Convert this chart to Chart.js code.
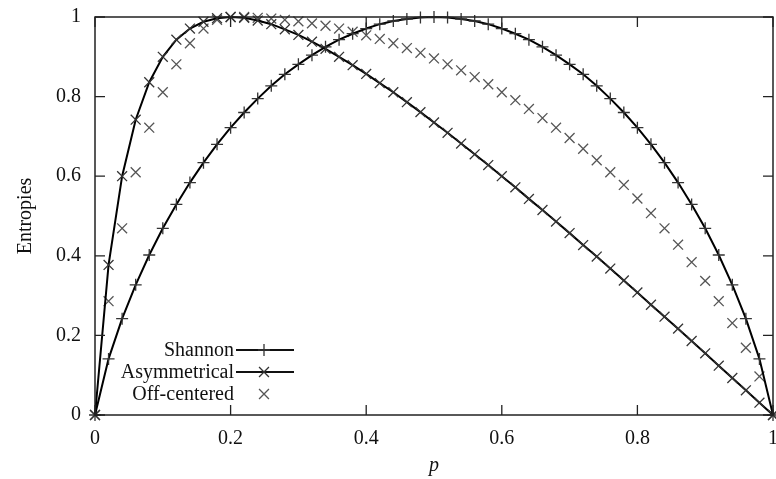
<!DOCTYPE html>
<html>
<head>
<meta charset="utf-8">
<script src="https://cdn.jsdelivr.net/npm/chart.js@4"></script>
<style>
html,body{margin:0;padding:0;background:#fff;}
#wrap{width:776px;height:479px;position:relative;}
</style>
</head>
<body>
<div id="wrap"><canvas id="c" width="776" height="479"></canvas></div>
<script>
// p values, step 0.02
const pValues = [0,0.02,0.04,0.06,0.08,0.10,0.12,0.14,0.16,0.18,0.20,0.22,0.24,0.26,0.28,0.30,0.32,0.34,0.36,0.38,0.40,0.42,0.44,0.46,0.48,0.50,0.52,0.54,0.56,0.58,0.60,0.62,0.64,0.66,0.68,0.70,0.72,0.74,0.76,0.78,0.80,0.82,0.84,0.86,0.88,0.90,0.92,0.94,0.96,0.98,1.00];
const shannon = [0,0.141,0.242,0.327,0.402,0.469,0.529,0.584,0.634,0.680,0.722,0.760,0.795,0.827,0.856,0.881,0.904,0.925,0.943,0.958,0.971,0.982,0.990,0.995,0.999,1.000,0.999,0.995,0.990,0.982,0.971,0.958,0.943,0.925,0.904,0.881,0.856,0.827,0.795,0.760,0.722,0.680,0.634,0.584,0.529,0.469,0.402,0.327,0.242,0.141,0];
const asymmetrical = [0,0.377,0.600,0.742,0.836,0.900,0.943,0.971,0.988,0.997,1.000,0.998,0.991,0.982,0.969,0.955,0.938,0.920,0.900,0.879,0.857,0.834,0.811,0.786,0.761,0.735,0.709,0.682,0.655,0.628,0.600,0.572,0.543,0.515,0.486,0.457,0.427,0.398,0.368,0.338,0.308,0.277,0.247,0.217,0.186,0.155,0.124,0.093,0.062,0.031,0];
const offCentered = [0,0.286,0.469,0.610,0.722,0.811,0.881,0.934,0.971,0.993,1.000,1.000,0.998,0.996,0.993,0.989,0.984,0.978,0.971,0.963,0.954,0.945,0.934,0.922,0.910,0.896,0.881,0.866,0.849,0.831,0.811,0.791,0.769,0.746,0.722,0.696,0.669,0.640,0.610,0.578,0.544,0.507,0.469,0.428,0.384,0.337,0.286,0.231,0.169,0.097,0];
const tickValues = [0,0.2,0.4,0.6,0.8,1];
const seriesNames = ['Shannon','Asymmetrical','Off-centered'];

const FONT = '"Liberation Serif", "Times New Roman", serif';
const toXY = arr => arr.map((v,i)=>({x:pValues[i], y:v}));

const framePlugin = {
  id:'frame',
  afterDatasetsDraw(chart){
    const {ctx, chartArea:a, scales:{x,y}} = chart;
    ctx.save();
    ctx.strokeStyle = '#222';
    ctx.lineWidth = 1.5;
    ctx.strokeRect(a.left, a.top, a.right-a.left, a.bottom-a.top);
    const tl = 10;
    ctx.lineWidth = 1.3;
    ctx.beginPath();
    tickValues.forEach(v=>{
      const px = x.getPixelForValue(v);
      ctx.moveTo(px, a.bottom); ctx.lineTo(px, a.bottom-tl);
      ctx.moveTo(px, a.top); ctx.lineTo(px, a.top+tl);
      const py = y.getPixelForValue(v);
      ctx.moveTo(a.left, py); ctx.lineTo(a.left+tl, py);
      ctx.moveTo(a.right, py); ctx.lineTo(a.right-tl, py);
    });
    ctx.stroke();

    // legend (inside bottom-left)
    const textRight = 234, lineL = 236, lineR = 294, mx = 264;
    const rows = [350, 372, 394];
    ctx.font = '20px ' + FONT;
    ctx.fillStyle = '#111';
    ctx.textAlign = 'right';
    ctx.textBaseline = 'middle';
    chart.data.datasets.forEach((ds,i)=>{
      const yy = rows[i];
      ctx.fillText(seriesNames[i], textRight, yy+1);
      if (ds.showLine !== false) {
        ctx.strokeStyle = '#111'; ctx.lineWidth = 2;
        ctx.beginPath(); ctx.moveTo(lineL, yy); ctx.lineTo(lineR, yy); ctx.stroke();
      }
      ctx.strokeStyle = ds.pointBorderColor; ctx.lineWidth = 1.3;
      Chart.helpers.drawPoint(ctx, {pointStyle: ds.pointStyle, radius: ds.pointRadius, rotation:0, borderWidth:1.3}, mx, yy);
    });
    ctx.restore();
  }
};

new Chart(document.getElementById('c'), {
  type:'scatter',
  data:{
    datasets:[
      {label:seriesNames[0], data:toXY(shannon), showLine:true, borderColor:'#000', borderWidth:2, clip:false,
       pointStyle:'cross', pointRadius:6, pointBorderColor:'#333', pointBorderWidth:1.3, pointBackgroundColor:'transparent', tension:0},
      {label:seriesNames[1], data:toXY(asymmetrical), showLine:true, borderColor:'#000', borderWidth:2, clip:false,
       pointStyle:'crossRot', pointRadius:7, pointBorderColor:'#333', pointBorderWidth:1.3, pointBackgroundColor:'transparent', tension:0},
      {label:seriesNames[2], data:toXY(offCentered), showLine:false, clip:false,
       pointStyle:'crossRot', pointRadius:7, pointBorderColor:'#555', pointBorderWidth:1.3, pointBackgroundColor:'transparent'}
    ]
  },
  options:{
    responsive:false,
    animation:false,
    layout:{autoPadding:false, padding:{left:0,right:3,top:17,bottom:0}},
    plugins:{legend:{display:false}, tooltip:{enabled:false}},
    scales:{
      x:{type:'linear', min:0, max:1,
         grid:{display:false, drawTicks:false},
         border:{display:false},
         afterBuildTicks(s){ s.ticks = tickValues.map(v=>({value:v})); },
         ticks:{padding:12, color:'#111', font:{family:FONT,size:20}, maxRotation:0,
                callback:v=> v===0||v===1 ? String(v) : v.toFixed(1)},
         title:{display:true, text:'p', color:'#111', font:{family:FONT,size:20,style:'italic'}, padding:{top:0,bottom:1}},
         afterFit(s){ s.height = 64; s.paddingLeft=0; s.paddingRight=0; }
      },
      y:{type:'linear', min:0, max:1,
         grid:{display:false, drawTicks:false},
         border:{display:false},
         afterBuildTicks(s){ s.ticks = tickValues.map(v=>({value:v})); },
         ticks:{padding:14, color:'#111', font:{family:FONT,size:20},
                callback:v=> v===0||v===1 ? String(v) : v.toFixed(1)},
         title:{display:true, text:'Entropies', color:'#111', font:{family:FONT,size:20}, padding:{top:14,bottom:0}},
         afterFit(s){ s.width = 95; s.paddingTop=0; s.paddingBottom=0; }
      }
    }
  },
  plugins:[framePlugin]
});
</script>
</body>
</html>
